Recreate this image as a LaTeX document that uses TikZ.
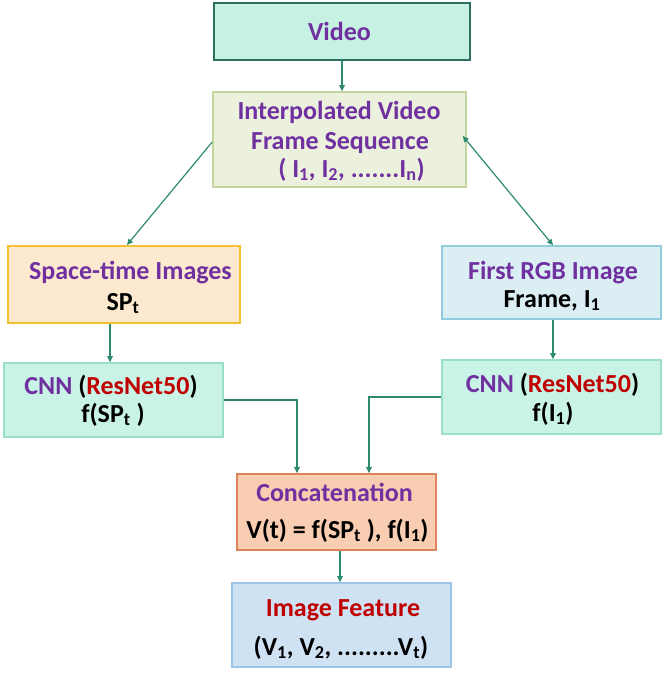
\documentclass[tikz,border=0pt]{standalone}
\usepackage{fontspec}
\setmainfont{Carlito}
\usetikzlibrary{arrows.meta}

\definecolor{purp}{HTML}{7030A0}
\definecolor{redt}{HTML}{C00000}
\definecolor{link}{HTML}{2E8B72}
\definecolor{mintfill}{HTML}{C7F1E3}
\definecolor{mintdraw}{HTML}{2F6F62}
\definecolor{cnnfill}{HTML}{C9F3E6}
\definecolor{cnndraw}{HTML}{9CDFC9}
\definecolor{grnfill}{HTML}{EBF1DC}
\definecolor{grndraw}{HTML}{C3D69B}
\definecolor{orgfill}{HTML}{FDE9D0}
\definecolor{orgdraw}{HTML}{F2C230}
\definecolor{bluefill}{HTML}{DBEEF4}
\definecolor{bluedraw}{HTML}{93CDDD}
\definecolor{salfill}{HTML}{F8CDB2}
\definecolor{saldraw}{HTML}{E1825E}
\definecolor{featfill}{HTML}{CFE2F3}
\definecolor{featdraw}{HTML}{9DC3E6}

\tikzset{
  box/.style={draw, line width=1.6pt, inner sep=0pt},
  lbl/.style={anchor=base, inner sep=0pt, font=\fontsize{26}{30}\selectfont\bfseries},
  arr/.style={draw=link, line width=1.2pt, -{Triangle[length=6pt,width=5.5pt]}},
  darr/.style={draw=link, line width=1.2pt, {Triangle[length=6pt,width=5.5pt]}-{Triangle[length=6pt,width=5.5pt]}},
}

\begin{document}
\begin{tikzpicture}[x=1pt,y=-1pt]
\useasboundingbox[fill=white] (0,0) rectangle (663,673);

% boxes
\node[box, fill=mintfill, draw=mintdraw, line width=1.2pt, minimum width=256pt, minimum height=57pt] (video) at (342,31.5) {};
\node[box, fill=grnfill, draw=grndraw, minimum width=253pt, minimum height=95pt] (interp) at (339.5,139.5) {};
\node[box, fill=orgfill, draw=orgdraw, line width=2pt, minimum width=232pt, minimum height=77pt] (st) at (124,284.5) {};
\node[box, fill=bluefill, draw=bluedraw, minimum width=219pt, minimum height=73pt] (rgb) at (551.5,282.5) {};
\node[box, fill=cnnfill, draw=cnndraw, minimum width=219pt, minimum height=74pt] (cnnl) at (113.5,400) {};
\node[box, fill=cnnfill, draw=cnndraw, minimum width=219pt, minimum height=74pt] (cnnr) at (551.5,397) {};
\node[box, fill=salfill, draw=saldraw, minimum width=199pt, minimum height=76pt] (concat) at (336.5,512) {};
\node[box, fill=featfill, draw=featdraw, minimum width=219pt, minimum height=84pt] (feat) at (341.5,625) {};

% labels
\node[lbl, text=purp] (video-t) at (339.5,40) {Video};
\node[lbl, text=purp] (interp-t1) at (339,119) {Interpolated Video};
\node[lbl, text=purp] (interp-t2) at (340,149) {Frame Sequence};
\node[lbl, text=purp] (interp-t3) at (351.5,177) {( I\textsubscript{1}, I\textsubscript{2}, .......I\textsubscript{n})};
\node[lbl, text=purp] (st-t1) at (130.5,279) {Space-time Images};
\node[lbl] (st-t2) at (123,310) {SP\textsubscript{t}};
\node[lbl, text=purp] (rgb-t1) at (553,279) {First RGB Image};
\node[lbl] (rgb-t2) at (552,307) {Frame, I\textsubscript{1}};
\node[lbl] (cnnl-t1) at (111,394) {\textcolor{purp}{CNN} (\textcolor{redt}{ResNet50})};
\node[lbl] (cnnl-t2) at (113,422) {f(SP\textsubscript{t} )};
\node[lbl] (cnnr-t1) at (552.5,392) {\textcolor{purp}{CNN} (\textcolor{redt}{ResNet50})};
\node[lbl] (cnnr-t2) at (553,421) {f(I\textsubscript{1})};
\node[lbl, text=purp] (concat-t1) at (334.5,501) {Concatenation};
\node[lbl] (concat-t2) at (337.5,538) {V(t) = f(SP\textsubscript{t} ), f(I\textsubscript{1})};
\node[lbl, text=redt] (feat-t1) at (343,616) {Image Feature};
\node[lbl] (feat-t2) at (341,655) {(V\textsubscript{1}, V\textsubscript{2}, .........V\textsubscript{t})};

% connectors
\draw[arr] (video.south) -- (video.south |- interp.north);
\draw[arr] ([yshift=-2.5pt]interp.west) -- ([xshift=3pt]st.north);
\draw[darr] ([yshift=3.5pt, xshift=-4pt]interp.east) -- ([xshift=1.5pt]rgb.north);
\draw[arr] ([xshift=-14pt]st.south) -- ([xshift=-14pt]st.south |- cnnl.north);
\draw[arr] ([xshift=1.5pt]rgb.south) -- ([xshift=1.5pt]rgb.south |- cnnr.north);
\draw[arr] (cnnl.east) -| ([xshift=-39.5pt]concat.north);
\draw[arr] (cnnr.west) -| ([xshift=32.5pt]concat.north);
\draw[arr] ([xshift=3.5pt]concat.south) -- ([xshift=3.5pt]concat.south |- feat.north);
\end{tikzpicture}
\end{document}
